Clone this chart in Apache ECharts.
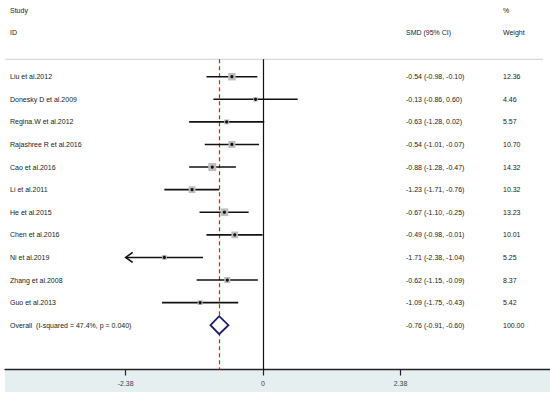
<!DOCTYPE html>
<html>
<head>
<meta charset="utf-8">
<script src="https://cdn.jsdelivr.net/npm/echarts@6/dist/echarts.min.js"></script>
<style>
html,body{margin:0;padding:0;background:#fff;}
#chart{width:550px;height:399px;}
</style>
</head>
<body>
<div id="chart"></div>
<script>
// ---- data ----
const studies = ['Liu et al.2012','Donesky D et al.2009','Regina.W et al.2012','Rajashree R et al.2016','Cao et al.2016','Li et al.2011','He et al.2015','Chen et al.2016','Ni et al.2019','Zhang et al.2008','Guo et al.2013'];
const smd = [-0.54,-0.13,-0.63,-0.54,-0.88,-1.23,-0.67,-0.49,-1.71,-0.62,-1.09];
const lower = [-0.98,-0.86,-1.28,-1.01,-1.28,-1.71,-1.10,-0.98,-2.38,-1.15,-1.75];
const upper = [-0.10,0.60,0.02,-0.07,-0.47,-0.76,-0.25,-0.01,-1.04,-0.09,-0.43];
const weights = [12.36,4.46,5.57,10.70,14.32,10.32,13.23,10.01,5.25,8.37,5.42];
const overallLabel = 'Overall  (I-squared = 47.4%, p = 0.040)';
const overallEst = -0.76, overallLow = -0.91, overallHigh = -0.60, overallWeight = 100.00;
const tickValues = [-2.38, 0, 2.38];
const tickLabels = ['-2.38', '0', '2.38'];
const headers = {study:'Study', id:'ID', smd:'SMD (95% CI)', pct:'%', weight:'Weight'};

// ---- layout ----
const FONT = '"Liberation Sans", Arial, sans-serif';
const FS = 7;
const TXT = '#222';
const colName = 10, colCI = 406, colW = 503;
const rangeMin = tickValues[0];
const fmt = v => v.toFixed(2);

const studyData = studies.map((s, i) => [smd[i], i + 1, lower[i], upper[i], weights[i], i]);
const overallRow = studies.length + 1;

const chart = echarts.init(document.getElementById('chart'), null, {renderer: 'svg'});

function textEl(x, y, str) {
  return {type: 'text', x: x, y: y, style: {text: str, fill: TXT, font: FS + 'px ' + FONT, textVerticalAlign: 'middle', textAlign: 'left'}};
}

const option = {
  animation: false,
  backgroundColor: '#fff',
  grid: {left: 5, right: 0, top: 59.3, bottom: 29.5},
  xAxis: {
    type: 'value', min: -4.47, max: 4.97,
    axisLine: {show: true, lineStyle: {color: '#222', width: 1.3}},
    axisTick: {show: true, customValues: tickValues, length: 6, lineStyle: {color: '#222', width: 1.2}},
    axisLabel: {show: true, customValues: tickValues, margin: 10, color: '#444', fontSize: FS, fontFamily: FONT,
      formatter: v => { const k = tickValues.findIndex(t => Math.abs(t - v) < 1e-6); return k >= 0 ? tickLabels[k] : ''; }},
    splitLine: {show: false}
  },
  yAxis: {type: 'value', inverse: true, min: 0.23, max: 13.96, show: false},
  graphic: [
    {type: 'rect', z: -10, shape: {x: 5, y: 370, width: 545, height: 22}, style: {fill: '#e5eff0'}},
    {type: 'line', shape: {x1: 5, y1: 59.3, x2: 543, y2: 59.3}, style: {stroke: '#cfcfcf', lineWidth: 1}},
    textEl(colName, 10, headers.study),
    textEl(colName, 32, headers.id),
    textEl(colCI, 32, headers.smd),
    textEl(colW, 10, headers.pct),
    textEl(colW, 32, headers.weight)
  ],
  series: [
    {
      type: 'custom', clip: false, z: 5,
      data: studyData,
      renderItem: function (params, api) {
        const est = api.value(0), row = api.value(1), lo = api.value(2), hi = api.value(3), w = api.value(4);
        const idx = api.value(5);
        const clipped = lo <= rangeMin;
        const pLo = api.coord([Math.max(lo, rangeMin), row]);
        const pHi = api.coord([hi, row]);
        const pE = api.coord([est, row]);
        const size = 2.11 * Math.sqrt(w);
        const children = [
          {type: 'line', shape: {x1: pLo[0], y1: pLo[1], x2: pHi[0], y2: pHi[1]}, style: {stroke: '#111', lineWidth: 1.6}},
          {type: 'rect', shape: {x: pE[0] - size / 2, y: pE[1] - size / 2, width: size, height: size}, style: {fill: '#bdbdbd'}},
          {type: 'circle', shape: {cx: pE[0], cy: pE[1], r: 1.6}, style: {fill: '#111'}},
          textEl(colName, pE[1], studies[idx]),
          textEl(colCI, pE[1], fmt(est) + ' (' + fmt(lo) + ', ' + fmt(hi) + ')'),
          textEl(colW, pE[1], fmt(w))
        ];
        if (clipped) {
          children.push({type: 'polyline', shape: {points: [[pLo[0] + 7, pLo[1] - 5], [pLo[0], pLo[1]], [pLo[0] + 7, pLo[1] + 5]]}, style: {stroke: '#111', lineWidth: 1.6, fill: null}});
        }
        return {type: 'group', children: children};
      },
      markLine: {
        silent: true, symbol: 'none', label: {show: false},
        data: [
          {xAxis: 0, lineStyle: {color: '#111', width: 1.2, type: 'solid'}},
          {xAxis: overallEst, lineStyle: {color: '#c4262e', width: 1.2, type: [4, 3]}}
        ]
      }
    },
    {
      type: 'custom', clip: false, z: 6,
      data: [[overallEst, overallRow, overallLow, overallHigh, overallWeight]],
      renderItem: function (params, api) {
        const est = api.value(0), row = api.value(1), lo = api.value(2), hi = api.value(3), w = api.value(4);
        const c = api.coord([est, row]);
        const l = api.coord([lo, row]);
        const r = api.coord([hi, row]);
        const h = 9;
        return {type: 'group', children: [
          {type: 'polygon', shape: {points: [[l[0], c[1]], [c[0], c[1] - h], [r[0], c[1]], [c[0], c[1] + h]]}, style: {fill: '#fff', stroke: '#1b1b6b', lineWidth: 1.8}},
          textEl(colName, c[1], overallLabel),
          textEl(colCI, c[1], fmt(est) + ' (' + fmt(lo) + ', ' + fmt(hi) + ')'),
          textEl(colW, c[1], fmt(w))
        ]};
      }
    }
  ]
};
chart.setOption(option);
</script>
</body>
</html>
